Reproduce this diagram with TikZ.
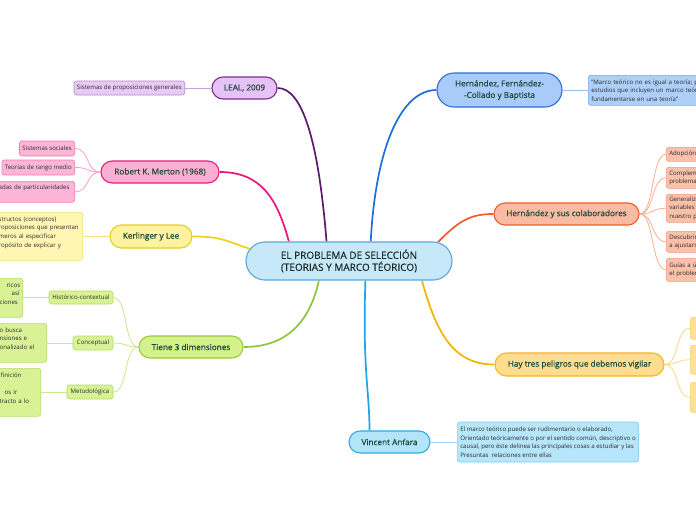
\documentclass[tikz,border=0pt]{standalone}
\usepackage{fontspec}
\setmainfont{Open Sans}
\newfontfamily\pillfont{Open Sans}[FakeBold=0.5]
\newcommand\myleaffont{\fontsize{6.1}{8.6}\selectfont\hyphenpenalty=10000\relax\exhyphenpenalty=10000\relax}
\usetikzlibrary{shapes.misc}
\pgfdeclarelayer{bg}
\pgfsetlayers{bg,main}
\definecolor{ctext}{HTML}{1C2B2A}
\definecolor{ptext}{HTML}{1B4A3A}
\definecolor{ltext}{HTML}{2A2A2A}
\definecolor{cfill}{HTML}{C6E8F8}\definecolor{cdraw}{HTML}{5BA7D9}
\definecolor{pufill}{HTML}{E6C2F7}\definecolor{pudraw}{HTML}{7E2D91}\definecolor{puline}{HTML}{5A1A6E}
\definecolor{pulfill}{HTML}{E9C9F5}\definecolor{puldraw}{HTML}{B68CC8}\definecolor{pull}{HTML}{C8A0D8}
\definecolor{pkfill}{HTML}{FBAFD2}\definecolor{pkdraw}{HTML}{E91E7A}\definecolor{pkline}{HTML}{E8157C}
\definecolor{pklfill}{HTML}{FBB5D6}\definecolor{pkldraw}{HTML}{F07FB0}\definecolor{pkll}{HTML}{F8A0C8}
\definecolor{yefill}{HTML}{FFF29E}\definecolor{yedraw}{HTML}{E6CF1E}\definecolor{yeline}{HTML}{E8D21C}
\definecolor{yelfill}{HTML}{FFF6B3}\definecolor{yeldraw}{HTML}{F2E07A}\definecolor{yell}{HTML}{F2E48A}
\definecolor{grfill}{HTML}{D5F18C}\definecolor{grdraw}{HTML}{9ACB3C}\definecolor{grline}{HTML}{8CC63F}
\definecolor{grlfill}{HTML}{D8F295}\definecolor{grldraw}{HTML}{B5DC6A}\definecolor{grll}{HTML}{C8E890}
\definecolor{blfill}{HTML}{A9CBFA}\definecolor{bldraw}{HTML}{2C6FD6}\definecolor{blline}{HTML}{1F6FD8}
\definecolor{bllfill}{HTML}{AECFFA}\definecolor{blldraw}{HTML}{7AA7E8}\definecolor{blll}{HTML}{A0C0F0}
\definecolor{orfill}{HTML}{F9BBA4}\definecolor{ordraw}{HTML}{F25C2A}\definecolor{orline}{HTML}{F25C2A}
\definecolor{orlfill}{HTML}{F9C0AA}\definecolor{orldraw}{HTML}{F49A78}\definecolor{orll}{HTML}{F8B090}
\definecolor{gofill}{HTML}{FEDD8E}\definecolor{godraw}{HTML}{F5B816}\definecolor{goline}{HTML}{F5B400}
\definecolor{golfill}{HTML}{FEE09A}\definecolor{goldraw}{HTML}{F8CF70}\definecolor{goll}{HTML}{FAD890}
\definecolor{cyfill}{HTML}{B3E5FA}\definecolor{cydraw}{HTML}{2FAAE3}\definecolor{cyline}{HTML}{1EA5E6}
\definecolor{cylfill}{HTML}{B7E5F9}\definecolor{cyldraw}{HTML}{86CDF0}\definecolor{cyll}{HTML}{A0D8F4}
\tikzset{
  pill/.style={rounded rectangle, draw, line width=1.1pt, inner sep=0pt, align=center,
    text=ptext, font=\pillfont\fontsize{8.2}{11.5}\selectfont},
  leaf/.style={draw, line width=0.6pt, rounded corners=2.5pt, inner xsep=3pt, inner ysep=2pt,
    align=left, text=ltext, font=\myleaffont},
  rcut/.style={leaf, anchor=north west, text width=70},
  main/.style={line width=1.7pt},
  twig/.style={line width=0.8pt}
}
\begin{document}
\begin{tikzpicture}[x=1pt,y=-1pt]
\useasboundingbox (0,0) rectangle (696,520);
\clip (0,0) rectangle (696,520);
% central
\node[pill, fill=cfill, draw=cdraw, minimum width=206, minimum height=38, text=ctext,
  font=\pillfont\fontsize{10}{12}\selectfont] (c) at (349,261) {EL PROBLEMA DE SELECCIÓN\\(TEORIAS Y MARCO TÉORICO)};
% LEAL
\node[pill, fill=pufill, draw=pudraw, minimum width=65, minimum height=22] (leal) at (244.5,88) {LEAL, 2009};
\node[leaf, fill=pulfill, draw=puldraw, minimum height=14, anchor=east] (lealA) at (185,88) {Sistemas de proposiciones generales};
% Merton
\node[pill, fill=pkfill, draw=pkdraw, minimum width=118, minimum height=22] (mer) at (160,172) {Robert K. Merton (1968)};
\node[leaf, fill=pklfill, draw=pkldraw, minimum height=15, anchor=east] (merA) at (75,148.5) {Sistemas sociales};
\node[leaf, fill=pklfill, draw=pkldraw, minimum height=15, anchor=east] (merB) at (75,167.5) {Teorías de rango medio};
\node[leaf, fill=pklfill, draw=pkldraw, minimum height=21, anchor=north east, text width=109] (merC) at (75,181) {\hspace*{36pt}adas de particularidades\\\mbox{}};
% Kerlinger
\node[pill, fill=yefill, draw=yedraw, minimum width=82, minimum height=23] (ker) at (151,236.5) {Kerlinger y Lee};
\node[leaf, fill=yelfill, draw=yeldraw, minimum height=48, anchor=north east, text width=117] (kerA) at (83,212)
  {\hspace*{36pt}structos (conceptos)\\\hspace*{36pt}roposiciones que presentan\\\hspace*{36pt}meros al especificar\\\hspace*{36pt}ropósito de explicar y\\\mbox{}};
% Tiene 3 dimensiones
\node[pill, fill=grfill, draw=grdraw, minimum width=104, minimum height=22] (tie) at (191,347) {Tiene 3 dimensiones};
\node[leaf, fill=grlfill, draw=grldraw, minimum height=13, minimum width=64, align=center] (his) at (81,297.5) {Histórico-contextual};
\node[leaf, fill=grlfill, draw=grldraw, minimum height=14, minimum width=40, align=center] (con) at (93,343) {Conceptual};
\node[leaf, fill=grlfill, draw=grldraw, minimum height=14, minimum width=46, align=center] (met) at (90,392) {Metodológica};
\node[leaf, fill=grlfill, draw=grldraw, minimum height=39, anchor=north east, text width=57] (hisA) at (23,278)
  {\hspace*{44pt}ricos\\\hspace*{49pt}así\\\hspace*{37pt}ciones\\\mbox{}};
\node[leaf, fill=grlfill, draw=grldraw, minimum height=39, anchor=north east, text width=81] (conA) at (47,323)
  {\hspace*{37pt}o busca\\\hspace*{37pt}nsiones e\\\hspace*{37pt}onalizado el\\\mbox{}};
\node[leaf, fill=grlfill, draw=grldraw, minimum height=48, anchor=north east, text width=75] (metA) at (41,368)
  {\hspace*{38pt}finición\\\mbox{}\\\hspace*{42pt}os ir\\\hspace*{37pt}tracto a lo\\\mbox{}};
% Hernandez Fernandez Baptista
\node[pill, fill=blfill, draw=bldraw, minimum width=125, minimum height=34] (hfb) at (499.5,90) {Hernández, Fernández-\\-Collado y Baptista};
\node[rcut, fill=bllfill, draw=blldraw, minimum height=30, text width=140] (hfbA) at (588,75)
  {"Marco teórico no es igual a teoría; por\\estudios que incluyen un marco teórico\\fundamentarse en una teoría"};
% Hernandez y sus colaboradores
\node[pill, fill=orfill, draw=ordraw, minimum width=145, minimum height=22] (hsc) at (566.5,214) {Hernández y sus colaboradores};
\node[rcut, fill=orlfill, draw=orldraw, minimum height=14] (hscA) at (666,147) {Adopción de una};
\node[rcut, fill=orlfill, draw=orldraw, minimum height=21] (hscB) at (666,167) {Complementar\\problema de};
\node[rcut, fill=orlfill, draw=orldraw, minimum height=28] (hscC) at (666,194) {Generalizar\\variables de\\nuestro problema};
\node[rcut, fill=orlfill, draw=orldraw, minimum height=21] (hscD) at (666,231) {Descubrir\\a ajustarse};
\node[rcut, fill=orlfill, draw=orldraw, minimum height=23] (hscE) at (666,258) {Guías a útiles\\el problema};
% Hay tres peligros
\node[pill, fill=gofill, draw=godraw, minimum width=169, minimum height=23] (hay) at (579.5,364.5) {Hay tres peligros que debemos vigilar};
\node[rcut, fill=golfill, draw=goldraw, minimum height=22] (hayA) at (690,317) {};
\node[rcut, fill=golfill, draw=goldraw, minimum height=29] (hayB) at (690,345) {};
\node[rcut, fill=golfill, draw=goldraw, minimum height=30] (hayC) at (690,382) {};
% Vincent Anfara
\node[pill, fill=cyfill, draw=cydraw, minimum width=81, minimum height=22] (vin) at (389.5,442) {Vincent Anfara};
\node[leaf, fill=cylfill, draw=cyldraw, minimum height=40, anchor=west] (vinA) at (457,442)
  {El marco teórico puede ser rudimentario o elaborado,\\Orientado teóricamente o por el sentido común, descriptivo o\\causal, pero éste delinea las principales cosas a estudiar y las\\Presuntas\ \ relaciones entre ellas};
% connectors
\begin{pgfonlayer}{bg}
\fill[white] (0,0) rectangle (696,520);
\draw[main, puline] (c.139) .. controls +(-8,-100) and +(25,0) .. (leal.east);
\draw[main, pkline] (c.162) .. controls +(-12,-45) and +(40,0) .. (mer.east);
\draw[main, yeline] (c.173) .. controls +(-25,-8) and +(30,0) .. (ker.east);
\draw[main, grline] (c.213) .. controls +(-10,45) and +(40,0) .. (tie.east);
\draw[main, blline] (c.42) .. controls +(5,-95) and +(-35,0) .. (hfb.west);
\draw[main, orline] (c.12) .. controls +(20,-20) and +(-25,0) .. (hsc.west);
\draw[main, goline] (c.345) .. controls +(15,55) and +(-40,0) .. (hay.west);
\draw[main, cyline] (c.310) .. controls +(-3,90) and +(0,-40) .. (vin.150);
\draw[twig, pull] (leal.west) -- (lealA.east);
\foreach \n in {merA,merB,merC} \draw[twig, pkll] (mer.west) .. controls +(-15,0) and +(15,0) .. (\n.east);
\draw[twig, yell] (ker.west) -- (ker.west -| kerA.east);
\foreach \n in {his,con,met} \draw[twig, grll] (tie.west) .. controls +(-15,0) and +(15,0) .. (\n.east);
\draw[twig, grll] (his.west) -- (his.west -| hisA.east);
\draw[twig, grll] (con.west) -- (con.west -| conA.east);
\draw[twig, grll] (met.west) -- (met.west -| metA.east);
\draw[twig, blll] (hfb.east) -- (hfb.east -| hfbA.west);
\foreach \n in {hscA,hscB,hscC,hscD,hscE} \draw[twig, orll] (hsc.east) .. controls +(15,0) and +(-15,0) .. (\n.west);
\foreach \n in {hayA,hayB,hayC} \draw[twig, goll] (hay.east) .. controls +(15,0) and +(-15,0) .. (\n.west);
\draw[twig, cyll] (vin.east) -- (vinA.west);
\end{pgfonlayer}
\end{tikzpicture}
\end{document}
